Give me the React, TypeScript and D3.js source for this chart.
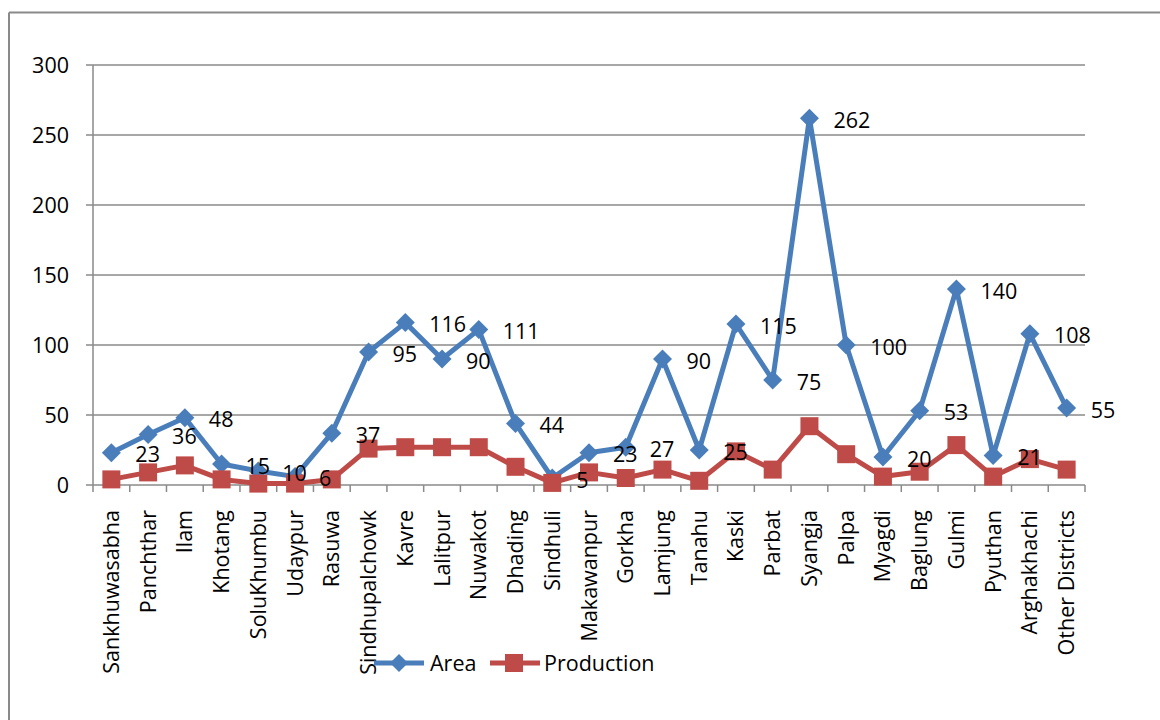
import React from "react";
import * as d3 from "d3";

const categories = [
  "Sankhuwasabha", "Panchthar", "Ilam", "Khotang", "SoluKhumbu", "Udaypur", "Rasuwa",
  "Sindhupalchowk", "Kavre", "Lalitpur", "Nuwakot", "Dhading", "Sindhuli", "Makawanpur",
  "Gorkha", "Lamjung", "Tanahu", "Kaski", "Parbat", "Syangja", "Palpa", "Myagdi",
  "Baglung", "Gulmi", "Pyuthan", "Arghakhachi", "Other Districts",
];
const areaValues = [23, 36, 48, 15, 10, 6, 37, 95, 116, 90, 111, 44, 5, 23, 27, 90, 25, 115, 75, 262, 100, 20, 53, 140, 21, 108, 55];
const productionValues = [4, 9, 14, 4, 1, 1, 4, 26, 27, 27, 27, 13, 1.5, 9, 5, 11, 3, 24, 11, 42, 22, 6, 9.5, 28.5, 6, 18.5, 11];
const yTicks = [0, 50, 100, 150, 200, 250, 300];
const seriesNames = ["Area", "Production"];

const W = 1160;
const H = 720;
const M = { left: 93, right: 1085, top: 65, bottom: 485 };
const BLUE = "#4A7EBB";
const RED = "#BE4B48";
const GRID = "#8a8a8a";
const FONT = "'Open Sans', sans-serif";
const FS = 21.5;

export default function App() {
  const x = d3.scaleBand<string>().domain(categories).range([M.left, M.right]).padding(0);
  const y = d3.scaleLinear().domain([0, 300]).range([M.bottom, M.top]);
  const cx = (c: string) => (x(c) as number) + x.bandwidth() / 2;
  const line = d3.line<number>().x((_, i) => cx(categories[i])).y((v) => y(v));

  const diamond = (px: number, py: number, r: number) =>
    `M${px},${py - r}L${px + r},${py}L${px},${py + r}L${px - r},${py}Z`;

  const boundaries = d3.range(categories.length + 1).map((i) => M.left + i * x.bandwidth());

  return (
    <svg width={W} height={H} style={{ position: "absolute", left: 0, top: 0, background: "#fff" }}>
      {/* outer border */}
      <line x1={9} y1={12.5} x2={W} y2={12.5} stroke={GRID} strokeWidth={2} />
      <line x1={9} y1={12.5} x2={9} y2={H} stroke={GRID} strokeWidth={2} />

      {/* gridlines & y ticks */}
      {yTicks.map((t) => (
        <g key={t}>
          <line x1={86} x2={M.right} y1={y(t)} y2={y(t)} stroke={GRID} strokeWidth={1.5} />
          <text x={69} y={y(t)} dy="0.35em" textAnchor="end" fontFamily={FONT} fontSize={FS} fill="#000">
            {t}
          </text>
        </g>
      ))}
      {/* y axis */}
      <line x1={M.left} x2={M.left} y1={M.top} y2={M.bottom} stroke={GRID} strokeWidth={1.5} />
      {/* x tick marks */}
      {boundaries.map((b, i) => (
        <line key={i} x1={b} x2={b} y1={M.bottom} y2={M.bottom + 7} stroke={GRID} strokeWidth={1.5} />
      ))}

      {/* category labels */}
      {categories.map((c) => (
        <text
          key={c}
          transform={`translate(${cx(c)},${M.bottom + 25}) rotate(-90)`}
          dy="0.35em"
          textAnchor="end"
          fontFamily={FONT}
          fontSize={FS}
          fill="#000"
        >
          {c}
        </text>
      ))}

      {/* Area series */}
      <path d={line(areaValues) || ""} fill="none" stroke={BLUE} strokeWidth={5} strokeLinejoin="round" />
      {areaValues.map((v, i) => (
        <path key={i} d={diamond(cx(categories[i]), y(v), 9.5)} fill={BLUE} />
      ))}

      {/* Production series */}
      <path d={line(productionValues) || ""} fill="none" stroke={RED} strokeWidth={5} strokeLinejoin="round" />
      {productionValues.map((v, i) => (
        <rect key={i} x={cx(categories[i]) - 9} y={y(v) - 9} width={18} height={18} fill={RED} />
      ))}

      {/* data labels (Area) */}
      {areaValues.map((v, i) => (
        <text
          key={i}
          x={cx(categories[i]) + 24}
          y={y(v) + 2}
          dy="0.35em"
          fontFamily={FONT}
          fontSize={FS}
          fill="#000"
        >
          {v}
        </text>
      ))}

      {/* legend */}
      <g>
        <line x1={374} x2={424} y1={663} y2={663} stroke={BLUE} strokeWidth={5} />
        <path d={diamond(399, 663, 9)} fill={BLUE} />
        <text x={430} y={663} dy="0.35em" fontFamily={FONT} fontSize={FS} fill="#000">
          {seriesNames[0]}
        </text>
        <line x1={490} x2={540} y1={663} y2={663} stroke={RED} strokeWidth={5} />
        <rect x={505} y={654} width={18} height={18} fill={RED} />
        <text x={544} y={663} dy="0.35em" fontFamily={FONT} fontSize={FS} fill="#000">
          {seriesNames[1]}
        </text>
      </g>
    </svg>
  );
}
